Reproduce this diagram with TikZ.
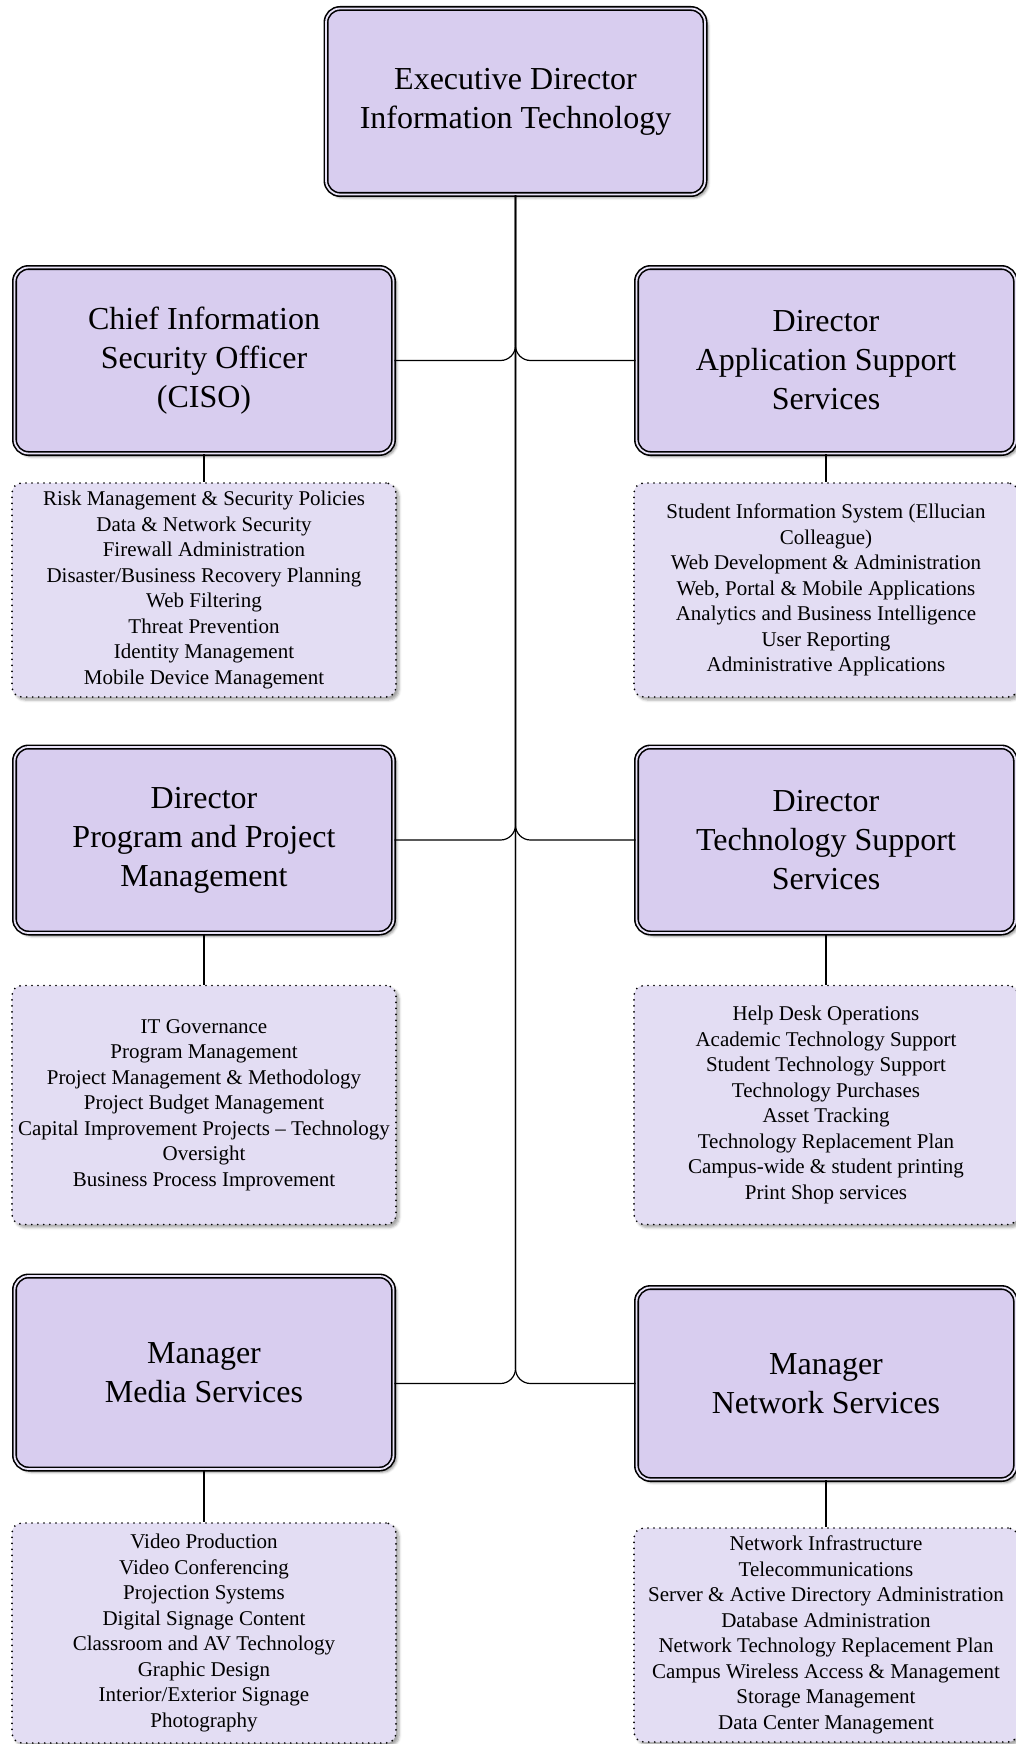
\documentclass[tikz,border=0pt]{standalone}
\usepackage{fontspec}
\setmainfont{Liberation Serif}
\usetikzlibrary{shadows.blur}

\definecolor{boxfill}{RGB}{216,205,239}
\definecolor{gapfill}{RGB}{233,227,248}
\definecolor{listfill}{RGB}{227,221,243}

\begin{document}
\begin{tikzpicture}[x=1pt,y=-1pt,
    head/.style={draw=black, line width=1.6pt, double=gapfill, double distance=1.8pt,
      fill=boxfill, rounded corners=14pt, inner sep=0pt, minimum width=379pt,
      minimum height=186pt, align=center, font=\fontsize{32}{39}\selectfont,
      blur shadow={shadow xshift=3pt, shadow yshift=-3pt, shadow blur radius=2.5pt, shadow opacity=45}},
    duties/.style={draw=black, line width=1.9pt, dash pattern=on 0pt off 6pt, line cap=round,
      fill=listfill, rounded corners=10pt, inner sep=0pt, minimum width=384pt,
      align=center, font=\fontsize{21}{25.5}\selectfont,
      blur shadow={shadow xshift=3pt, shadow yshift=-3pt, shadow blur radius=2.5pt, shadow opacity=35}},
    link/.style={line width=1.2pt}]
    \useasboundingbox (0,0) rectangle (1015,1744);

    % heads of the units
    \node[head] (ed) at (515.5,101.5) {Executive Director\\Information Technology};
    \node[head] (ciso) at (204,360.5) {Chief Information\\Security Officer\\(CISO)};
    \node[head] (ass) at (826,360.5) {Director\\Application Support\\Services};
    \node[head] (ppm) at (204,840) {Director\\Program and Project\\Management};
    \node[head] (tss) at (826,840) {Director\\Technology Support\\Services};
    \node[head, minimum height=193pt] (mms) at (204,1372.5) {Manager\\Media Services};
    \node[head, minimum height=192pt] (nws) at (826,1383.5) {Manager\\Network Services};

    % what each unit covers
    \node[duties, minimum height=214pt] (cisol) at (204,590) {Risk Management \& Security Policies\\Data \& Network Security\\Firewall Administration\\Disaster/Business Recovery Planning\\Web Filtering\\Threat Prevention\\Identity Management\\Mobile Device Management};
    \node[duties, minimum height=214pt] (assl) at (826,590) {Student Information System (Ellucian\\Colleague)\\Web Development \& Administration\\Web, Portal \& Mobile Applications\\Analytics and Business Intelligence\\User Reporting\\Administrative Applications};
    \node[duties, minimum height=239pt] (ppml) at (204,1105) {IT Governance\\Program Management\\Project Management \& Methodology\\Project Budget Management\\Capital Improvement Projects -- Technology\\Oversight\\Business Process Improvement};
    \node[duties, minimum height=239pt] (tssl) at (826,1105) {Help Desk Operations\\Academic Technology Support\\Student Technology Support\\Technology Purchases\\Asset Tracking\\Technology Replacement Plan\\Campus-wide \& student printing\\Print Shop services};
    \node[duties, minimum height=220pt] (mmsl) at (204,1633) {Video Production\\Video Conferencing\\Projection Systems\\Digital Signage Content\\Classroom and AV Technology\\Graphic Design\\Interior/Exterior Signage\\Photography};
    \node[duties, minimum height=214pt] (nwsl) at (826,1635) {Network Infrastructure\\Telecommunications\\Server \& Active Directory Administration\\Database Administration\\Network Technology Replacement Plan\\Campus Wireless Access \& Management\\Storage Management\\Data Center Management};

    % trunk and branches
    \draw[link, rounded corners=15pt] (ed.south) |- (ciso.east);
    \draw[link, rounded corners=15pt] (ed.south) |- (ass.west);
    \draw[link, rounded corners=15pt] (ed.south) |- (ppm.east);
    \draw[link, rounded corners=15pt] (ed.south) |- (tss.west);
    \draw[link, rounded corners=15pt] (ed.south) |- (mms.east |- nws.west);
    \draw[link, rounded corners=15pt] (ed.south) |- (nws.west);

    \draw[link] (ciso) -- (cisol);
    \draw[link] (ass) -- (assl);
    \draw[link] (ppm) -- (ppml);
    \draw[link] (tss) -- (tssl);
    \draw[link] (mms) -- (mmsl);
    \draw[link] (nws) -- (nwsl);
\end{tikzpicture}
\end{document}
